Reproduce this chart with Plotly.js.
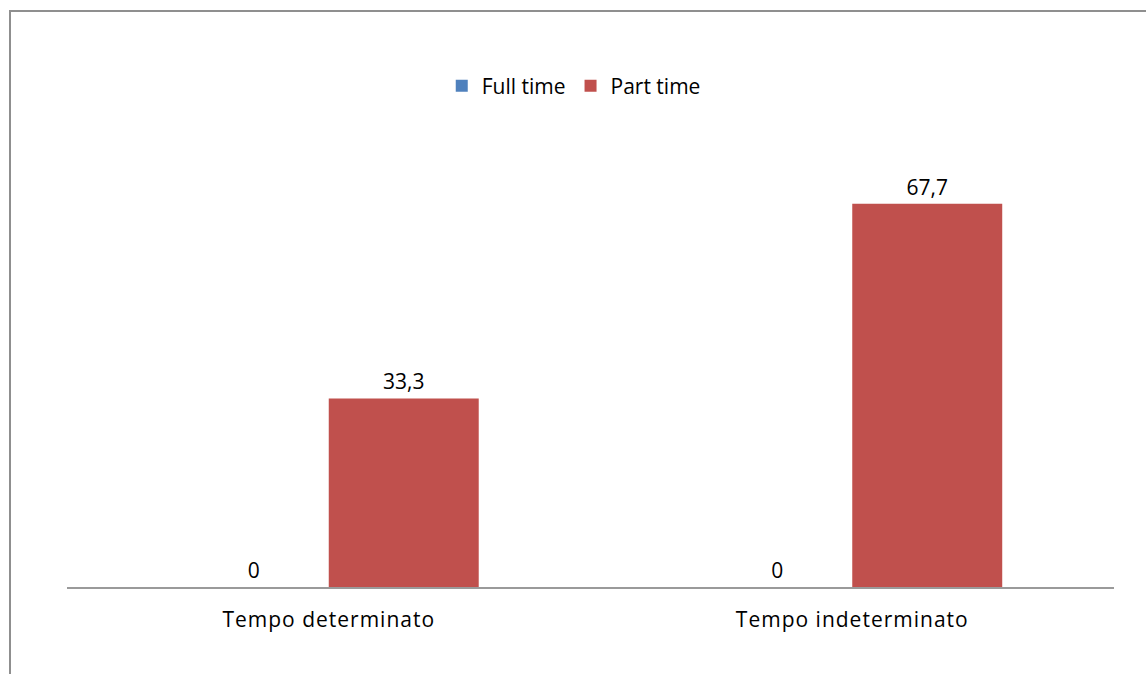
<!DOCTYPE html>
<html>
<head>
<meta charset="utf-8">
<script src="https://cdn.plot.ly/plotly-3.0.1.min.js"></script>
<style>
  html, body { margin: 0; padding: 0; background: #fff; }
  #chart { width: 1146px; height: 674px; }
  #chart .xtick text, #chart .textpoint text { letter-spacing: 1px; }
</style>
</head>
<body>
<div id="chart"></div>
<script>
const categories = ["Tempo determinato", "Tempo indeterminato"];
const fullTime = [0, 0];
const partTime = [33.3, 67.7];
const seriesNames = ["Full time", "Part time"];

function fmt(v) {
  return v === 0 ? "0" : v.toFixed(1).replace(".", ",");
}

const font = { family: "'Open Sans', Lato, sans-serif", size: 21, color: "#000" };

const traces = [
  {
    type: "bar", name: seriesNames[0], x: categories, y: fullTime,
    marker: { color: "#4F81BD" },
    text: fullTime.map(fmt), textposition: "outside", cliponaxis: false,
    textfont: font, hoverinfo: "none"
  },
  {
    type: "bar", name: seriesNames[1], x: categories, y: partTime,
    marker: { color: "#C0504D" },
    text: partTime.map(fmt), textposition: "outside", cliponaxis: false,
    textfont: font, hoverinfo: "none"
  }
];

const layout = {
  width: 1146, height: 674,
  margin: { l: 67, r: 32, t: 134, b: 87 },
  paper_bgcolor: "#fff", plot_bgcolor: "#fff",
  font: font,
  separators: ",.",
  barmode: "group",
  bargap: 0.427,
  bargroupgap: 0,
  showlegend: true,
  legend: {
    orientation: "h", x: 0.484, xanchor: "center", y: 1.106, yanchor: "middle",
    font: font, itemwidth: 30, traceorder: "normal"
  },
  xaxis: {
    showline: true, linecolor: "#9a9a9a", linewidth: 2,
    ticks: "", showgrid: false, zeroline: false,
    tickfont: font, ticklabelstandoff: 13
  },
  yaxis: {
    range: [0, 80], visible: false, showgrid: false, zeroline: false
  },
  shapes: [
    {
      type: "rect", xref: "paper", yref: "paper",
      x0: (10 - 67) / 1047, x1: 1.2, y0: -0.4, y1: (587 - 11) / 453,
      line: { color: "#8f8f8f", width: 2 }, fillcolor: "rgba(0,0,0,0)", layer: "below"
    }
  ]
};

Plotly.newPlot("chart", traces, layout, { displayModeBar: false, staticPlot: true });
</script>
</body>
</html>
